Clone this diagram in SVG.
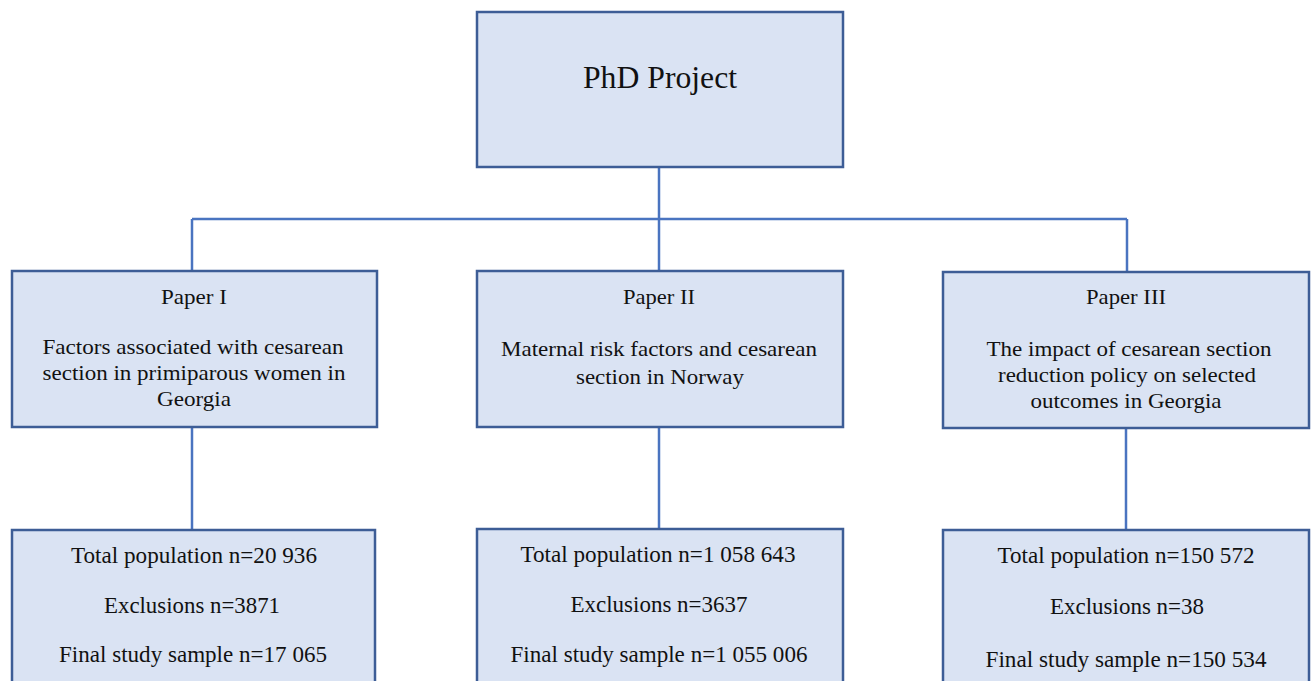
<svg xmlns="http://www.w3.org/2000/svg" width="1312" height="681" viewBox="0 0 1312 681">
<style>
.box{fill:#dae3f3;stroke:#3d5d96;stroke-width:2.5}
.ln{stroke:#4a74c0;stroke-width:2.5;fill:none}
text{font-family:"Liberation Serif","Times New Roman",serif;fill:#111;text-anchor:middle}
.t{font-size:31px}
.p{font-size:22px}
.b{font-size:23px}
</style>
<rect width="1312" height="681" fill="#fff"/>
<g id="connectors">
<line class="ln" x1="659" y1="167" x2="659" y2="272"/>
<line class="ln" x1="192" y1="219" x2="1127" y2="219"/>
<line class="ln" x1="192" y1="219" x2="192" y2="272"/>
<line class="ln" x1="1127" y1="219" x2="1127" y2="273"/>
<line class="ln" x1="192" y1="427" x2="192" y2="530"/>
<line class="ln" x1="659" y1="427" x2="659" y2="529"/>
<line class="ln" x1="1126" y1="428" x2="1126" y2="530"/>
</g>
<g id="phd">
<rect class="box" x="477" y="12" width="366" height="155"/>
<text class="t" x="660" y="88" textLength="154" lengthAdjust="spacingAndGlyphs">PhD Project</text>
</g>
<g id="paper1">
<rect class="box" x="12" y="271" width="365" height="156"/>
<text class="p" x="194" y="304" textLength="66" lengthAdjust="spacingAndGlyphs">Paper I</text>
<text class="p" x="193" y="354" textLength="301" lengthAdjust="spacingAndGlyphs">Factors associated with cesarean</text>
<text class="p" x="194" y="380" textLength="303" lengthAdjust="spacingAndGlyphs">section in primiparous women in</text>
<text class="p" x="194" y="406" textLength="74" lengthAdjust="spacingAndGlyphs">Georgia</text>
</g>
<g id="paper2">
<rect class="box" x="477" y="271" width="366" height="156"/>
<text class="p" x="659" y="304" textLength="72" lengthAdjust="spacingAndGlyphs">Paper II</text>
<text class="p" x="659" y="356" textLength="316" lengthAdjust="spacingAndGlyphs">Maternal risk factors and cesarean</text>
<text class="p" x="660" y="384" textLength="168" lengthAdjust="spacingAndGlyphs">section in Norway</text>
</g>
<g id="paper3">
<rect class="box" x="943" y="272" width="366" height="156"/>
<text class="p" x="1126" y="304" textLength="80" lengthAdjust="spacingAndGlyphs">Paper III</text>
<text class="p" x="1129" y="356" textLength="285" lengthAdjust="spacingAndGlyphs">The impact of cesarean section</text>
<text class="p" x="1127" y="382" textLength="258" lengthAdjust="spacingAndGlyphs">reduction policy on selected</text>
<text class="p" x="1126" y="408" textLength="191" lengthAdjust="spacingAndGlyphs">outcomes in Georgia</text>
</g>
<g id="sample1">
<rect class="box" x="12" y="530" width="363" height="160"/>
<text class="b" x="194" y="563" textLength="246" lengthAdjust="spacingAndGlyphs">Total population n=20 936</text>
<text class="b" x="192" y="613" textLength="176" lengthAdjust="spacingAndGlyphs">Exclusions n=3871</text>
<text class="b" x="193" y="662" textLength="268" lengthAdjust="spacingAndGlyphs">Final study sample n=17 065</text>
</g>
<g id="sample2">
<rect class="box" x="477" y="529" width="366" height="160"/>
<text class="b" x="658" y="562" textLength="275" lengthAdjust="spacingAndGlyphs">Total population n=1 058 643</text>
<text class="b" x="659" y="612" textLength="177" lengthAdjust="spacingAndGlyphs">Exclusions n=3637</text>
<text class="b" x="659" y="662" textLength="297" lengthAdjust="spacingAndGlyphs">Final study sample n=1 055 006</text>
</g>
<g id="sample3">
<rect class="box" x="943" y="530" width="366" height="160"/>
<text class="b" x="1126" y="563" textLength="257" lengthAdjust="spacingAndGlyphs">Total population n=150 572</text>
<text class="b" x="1127" y="614" textLength="154" lengthAdjust="spacingAndGlyphs">Exclusions n=38</text>
<text class="b" x="1126" y="667" textLength="281" lengthAdjust="spacingAndGlyphs">Final study sample n=150 534</text>
</g>
</svg>
